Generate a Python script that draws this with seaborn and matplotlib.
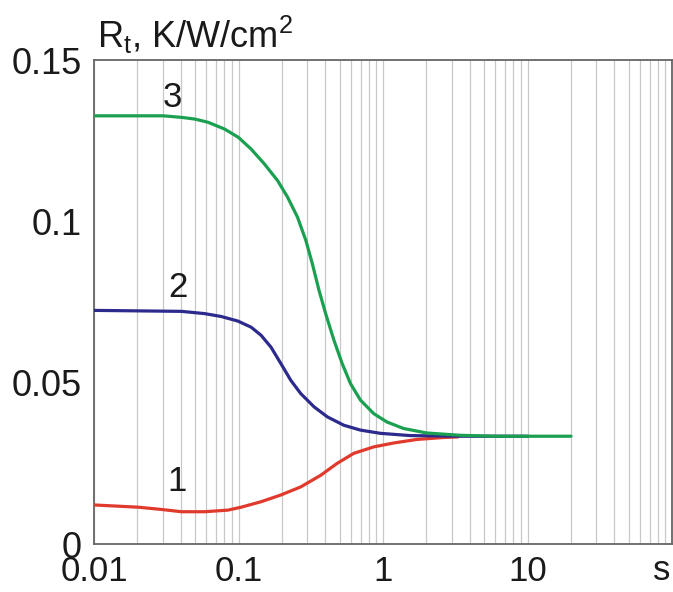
import numpy as np
import pandas as pd
import matplotlib
matplotlib.use("Agg")
import matplotlib.pyplot as plt
import seaborn as sns
from matplotlib.ticker import LogLocator, NullFormatter

# ---- data ----
x1 = [0.01, 0.0203, 0.0294, 0.0403, 0.0583, 0.0845, 0.1043, 0.1432, 0.1966, 0.2698, 0.3706,
      0.482, 0.628, 0.863, 1.184, 1.714, 2.613, 3.3]
y1 = [0.0121, 0.0114, 0.0107, 0.0100, 0.0100, 0.0105, 0.0114, 0.0131, 0.0152, 0.0177, 0.0213,
      0.0250, 0.0281, 0.0301, 0.0313, 0.0324, 0.0330, 0.0332]

x2 = [0.01, 0.0403, 0.0583, 0.0760, 0.0989, 0.1222, 0.1432, 0.1678, 0.1966, 0.2303, 0.2698,
      0.3334, 0.412, 0.536, 0.698, 0.959, 1.542, 3.4, 10.0]
y2 = [0.0724, 0.0721, 0.0714, 0.0705, 0.0691, 0.0672, 0.0647, 0.0610, 0.0559, 0.0507, 0.0466,
      0.0425, 0.0394, 0.0368, 0.0353, 0.0343, 0.0336, 0.0334, 0.0334]

x3 = [0.01, 0.0302, 0.0407, 0.0498, 0.0615, 0.0801, 0.1, 0.1222, 0.151, 0.1866, 0.2185, 0.256,
      0.2924, 0.3246, 0.3608, 0.401, 0.458, 0.522, 0.596, 0.698, 0.863, 1.066, 1.387, 2.009,
      3.4, 5.77, 10.0, 20.0]
y3 = [0.1327, 0.1327, 0.1322, 0.1317, 0.1307, 0.1286, 0.1260, 0.1224, 0.1178, 0.1126, 0.1075,
      0.1013, 0.0941, 0.0868, 0.0786, 0.0714, 0.0631, 0.0559, 0.0497, 0.0446, 0.0404, 0.0378,
      0.0358, 0.0344, 0.0337, 0.0334, 0.0334, 0.0334]

series_names = ["1", "2", "3"]
series_colors = ["#e03a2c", "#2c2a8c", "#1aa050"]
label_pos_x = [0.0378, 0.0378, 0.0350]
label_pos_y = [0.0193, 0.0796, 0.1384]

xtick_vals = [0.01, 0.1, 1, 10]
xtick_labels = ["0.01", "0.1", "1", "10"]
ytick_vals = [0, 0.05, 0.1, 0.15]
ytick_labels = ["0", "0.05", "0.1", "0.15"]

df = pd.concat([
    pd.DataFrame({"t": x1, "R": y1, "curve": "1"}),
    pd.DataFrame({"t": x2, "R": y2, "curve": "2"}),
    pd.DataFrame({"t": x3, "R": y3, "curve": "3"}),
], ignore_index=True)

sns.set_style("white")
plt.rcParams["font.family"] = ["Liberation Sans", "DejaVu Sans"]
plt.rcParams["mathtext.default"] = "regular"

fig = plt.figure(figsize=(6.73, 5.92), dpi=100)
ax = fig.add_axes([94 / 673, 1 - 544 / 592, (672 - 94) / 673, (544 - 60) / 592])

sns.lineplot(data=df, x="t", y="R", hue="curve", palette=dict(zip(series_names, series_colors)),
             estimator=None, sort=False, linewidth=2.3, legend=False, ax=ax, zorder=3)

ax.set_xscale("log")
ax.set_xlim(0.01, 100)
ax.set_ylim(0, 0.15)

ax.xaxis.set_minor_locator(LogLocator(base=10, subs=np.arange(2, 10), numticks=20))
ax.xaxis.set_minor_formatter(NullFormatter())
ax.set_xticks(xtick_vals + [100])
ax.set_xticklabels(xtick_labels + [""])
ax.set_yticks(ytick_vals)
ax.set_yticklabels(ytick_labels)

ax.grid(True, axis="x", which="both", color="#c8c8c8", linewidth=0.9)
ax.grid(False, axis="y")
ax.set_axisbelow(True)

ax.tick_params(axis="both", which="major", labelsize=26, direction="in", length=4,
               width=0.9, color="#666666", labelcolor="#1a1a1a")
ax.tick_params(axis="x", which="major", pad=8, labelsize=25)
ax.tick_params(axis="y", which="major", pad=9)
ax.tick_params(axis="x", which="minor", length=0)

for sp in ax.spines.values():
    sp.set_color("#666666")
    sp.set_linewidth(1.3)
    sp.set_visible(True)

ax.set_xlabel("")
ax.set_ylabel("")

for name, lx, ly in zip(series_names, label_pos_x, label_pos_y):
    ax.text(lx, ly, name, fontsize=25, color="#1a1a1a", ha="center", va="center")

fig.text(97 / 673, 1 - 48 / 592, r"R$_{t}$, K/W/cm$^{2}$", fontsize=26, color="#1a1a1a",
         ha="left", va="baseline")
fig.text(670 / 673, 1 - 580 / 592, "s", fontsize=25, color="#1a1a1a", ha="right", va="baseline")

fig.savefig("out.png", dpi=100)
